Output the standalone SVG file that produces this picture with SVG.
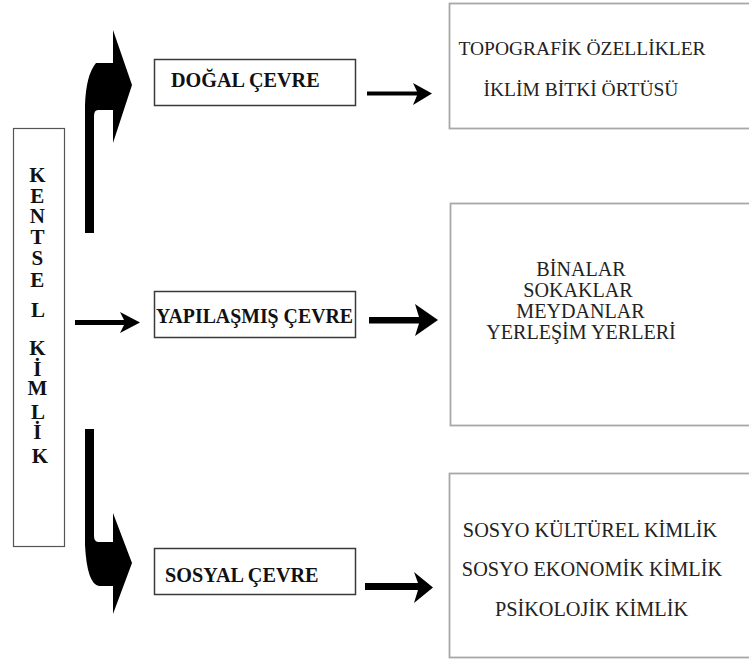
<svg xmlns="http://www.w3.org/2000/svg" width="749" height="662" viewBox="0 0 749 662">
<style>
.bg{fill:#ffffff}
.lbl{fill:#ffffff;stroke:#3a3a3a;stroke-width:1.5}
.side{fill:#ffffff;stroke:#555555;stroke-width:1.2}
.det{fill:#ffffff;stroke:#a8a8a8;stroke-width:1.8}
text{font-family:Liberation Serif, DejaVu Serif, serif}
.bt{font-weight:bold;font-size:20.2px;fill:#111111}
.vt{font-weight:bold;font-size:21px;fill:#111111;text-anchor:middle}
.rt{font-size:19.5px;fill:#222222;text-anchor:middle}
.rm{font-size:20.1px}
.rb{font-size:20.3px}
.ar{fill:#000000}
</style>
<rect class="bg" x="0" y="0" width="749" height="662"/>

<g id="connectors">
  <path class="ar" d="M85 233 L85 105 Q86 75 96 63 L113 63 L113 30 L132 85 L113 143 L113 110 L98 110 Q94 110 94 116 L94 233 Z"/>
  <path class="ar" d="M85 429 L94 429 L94 536 Q94 542 99 542 L113 542 L113 513 L132 563 L113 614 L113 586 L99 586 Q87 584 85 545 Z"/>
  <path class="ar" d="M367 91.5 L417 91.5 L413 83 L432 93.5 L413 105 L417 95.5 L367 95.5 Z"/>
  <path class="ar" d="M75 320 L124 320 L120 312 L140 322.5 L120 333 L124 325 L75 325 Z"/>
  <path class="ar" d="M369 317 L419 317 L415 304 L438 320 L415 336 L419 323.5 L369 323.5 Z"/>
  <path class="ar" d="M365 583 L418 583 L414 572 L433 587.5 L414 603 L418 590 L365 590 Z"/>
</g>

<g id="kentsel-kimlik">
  <rect class="side" x="13.5" y="128.5" width="51" height="418"/>
  <text class="vt" font-family="Liberation Serif">
    <tspan x="40" y="182">K</tspan>
    <tspan x="40" y="203">E</tspan>
    <tspan x="40" y="223">N</tspan>
    <tspan x="40" y="244">T</tspan>
    <tspan x="40" y="265">S</tspan>
    <tspan x="40" y="287">E</tspan>
    <tspan x="40" y="317">L</tspan>
    <tspan x="40" y="355">K</tspan>
    <tspan x="40" y="376">İ</tspan>
    <tspan x="40" y="395">M</tspan>
    <tspan x="40" y="419">L</tspan>
    <tspan x="40" y="439">İ</tspan>
    <tspan x="40" y="463">K</tspan>
  </text>
</g>

<g id="dogal-cevre">
  <rect class="lbl" x="154.5" y="59.5" width="201" height="46"/>
  <text class="bt" font-family="Liberation Serif" x="171" y="87">DOĞAL ÇEVRE</text>
</g>

<g id="yapilasmis-cevre">
  <rect class="lbl" x="154.5" y="291.5" width="201" height="46"/>
  <text class="bt" font-family="Liberation Serif" x="156" y="323" textLength="197" lengthAdjust="spacingAndGlyphs">YAPILAŞMIŞ ÇEVRE</text>
</g>

<g id="sosyal-cevre">
  <rect class="lbl" x="154.5" y="548.5" width="201" height="46"/>
  <text class="bt" font-family="Liberation Serif" x="165" y="582">SOSYAL ÇEVRE</text>
</g>

<g id="dogal-detay">
  <rect class="det" x="449.5" y="3.5" width="320" height="125"/>
  <text class="rt" font-family="Liberation Serif" x="582" y="55">TOPOGRAFİK ÖZELLİKLER</text>
  <text class="rt" font-family="Liberation Serif" x="581" y="96">İKLİM BİTKİ ÖRTÜSÜ</text>
</g>

<g id="yapilasmis-detay">
  <rect class="det" x="450.5" y="203.5" width="320" height="222"/>
  <text class="rt rm" font-family="Liberation Serif" x="581" y="276">BİNALAR</text>
  <text class="rt rm" font-family="Liberation Serif" x="578" y="297">SOKAKLAR</text>
  <text class="rt rm" font-family="Liberation Serif" x="580.5" y="318">MEYDANLAR</text>
  <text class="rt rm" font-family="Liberation Serif" x="581" y="339">YERLEŞİM YERLERİ</text>
</g>

<g id="sosyal-detay">
  <rect class="det" x="449.5" y="473.5" width="320" height="184"/>
  <text class="rt rb" font-family="Liberation Serif" x="590" y="537">SOSYO KÜLTÜREL KİMLİK</text>
  <text class="rt rb" font-family="Liberation Serif" x="592" y="576">SOSYO EKONOMİK KİMLİK</text>
  <text class="rt rb" font-family="Liberation Serif" x="591.5" y="616">PSİKOLOJİK KİMLİK</text>
</g>
</svg>
